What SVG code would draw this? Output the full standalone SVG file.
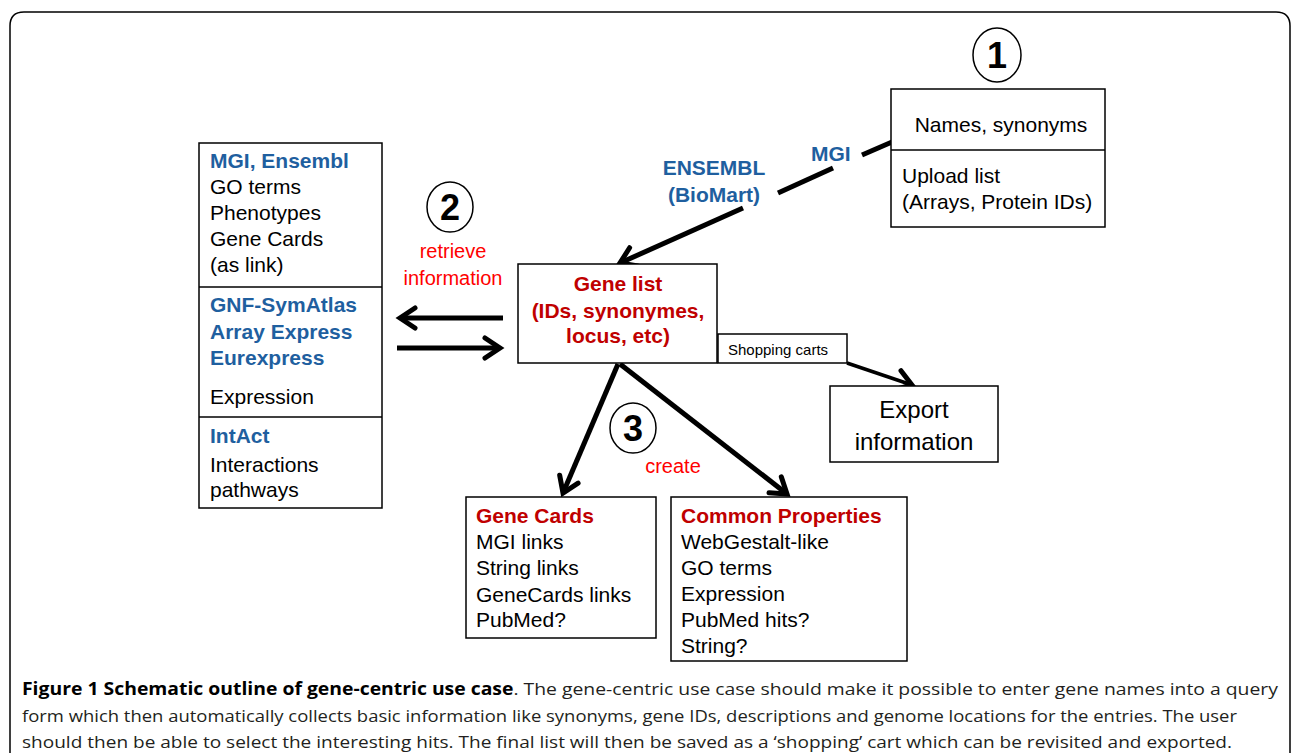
<svg xmlns="http://www.w3.org/2000/svg" width="1292" height="753" viewBox="0 0 1292 753">
<style>
text{font-family:"Liberation Sans",Arial,sans-serif;fill:#000}
.box{fill:#fff;stroke:#000;stroke-width:1.5}
.t{font-size:21px}
.blue{fill:#1f5f9f;font-weight:bold}
.dred{fill:#c00000;font-weight:bold}
.red{fill:#ff0000;font-size:20px}
.num{font-size:36px;font-weight:bold}
.circ{fill:#fff;stroke:#000;stroke-width:1.5}
.cap{font-family:"Open Sans","Liberation Sans",sans-serif;font-size:17px;fill:#231f20}
.conn{stroke:#000;stroke-width:5;fill:none}
</style>
<defs>
<marker id="ah" markerUnits="userSpaceOnUse" markerWidth="40" markerHeight="40" viewBox="-20 -20 40 40" refX="0" refY="0" orient="auto">
<path d="M-15,-10 L0,0 L-15,10" fill="none" stroke="#000" stroke-width="5" stroke-linecap="round"/>
</marker>
</defs>
<rect width="1292" height="753" fill="#fff"/>
<path d="M10,753 V26 Q10,12 24,12 H1276 Q1290,12 1290,26 V753" fill="none" stroke="#000" stroke-width="1.5"/>

<g id="connectors">
<line class="conn" x1="892" y1="142" x2="862" y2="155" stroke-width="6"/>
<line class="conn" x1="833" y1="168" x2="778" y2="193" stroke-width="6"/>
<line class="conn" x1="743" y1="208" x2="620" y2="263" marker-end="url(#ah)"/>
<line class="conn" x1="503" y1="318" x2="400" y2="318" marker-end="url(#ah)"/>
<line class="conn" x1="397" y1="348" x2="500" y2="348" marker-end="url(#ah)"/>
<line class="conn" x1="618" y1="364" x2="563" y2="493" marker-end="url(#ah)"/>
<line class="conn" x1="620" y1="364" x2="787" y2="494" marker-end="url(#ah)"/>
<line stroke="#000" stroke-width="3.5" fill="none" x1="847" y1="363" x2="912" y2="385" marker-end="url(#ah)"/>
</g>

<g id="step1">
<ellipse class="circ" cx="997" cy="55" rx="24" ry="27"/>
<text class="num" x="997" y="68" text-anchor="middle">1</text>
</g>
<g id="input-box">
<rect class="box" x="891" y="89" width="214" height="138"/>
<line x1="891" y1="150" x2="1105" y2="150" stroke="#000" stroke-width="1.5"/>
<text class="t" x="1001" y="132" text-anchor="middle">Names, synonyms</text>
<text class="t" x="902" y="183">Upload list</text>
<text class="t" x="902" y="209">(Arrays, Protein IDs)</text>
</g>
<g id="source-labels">
<text class="t blue" x="811" y="161" font-size="19">MGI</text>
<text class="t blue" x="714" y="175" text-anchor="middle">ENSEMBL</text>
<text class="t blue" x="714" y="202" text-anchor="middle">(BioMart)</text>
</g>

<g id="sources-box">
<rect class="box" x="199" y="143" width="183" height="365"/>
<line x1="199" y1="287" x2="382" y2="287" stroke="#000" stroke-width="1.5"/>
<line x1="199" y1="417" x2="382" y2="417" stroke="#000" stroke-width="1.5"/>
<text class="t blue" x="210" y="168">MGI, Ensembl</text>
<text class="t" x="210" y="194">GO terms</text>
<text class="t" x="210" y="220">Phenotypes</text>
<text class="t" x="210" y="246">Gene Cards</text>
<text class="t" x="210" y="272">(as link)</text>
<text class="t blue" x="210" y="312">GNF-SymAtlas</text>
<text class="t blue" x="210" y="339">Array Express</text>
<text class="t blue" x="210" y="365">Eurexpress</text>
<text class="t" x="210" y="404">Expression</text>
<text class="t blue" x="210" y="443">IntAct</text>
<text class="t" x="210" y="472">Interactions</text>
<text class="t" x="210" y="497">pathways</text>
</g>

<g id="step2">
<ellipse class="circ" cx="450" cy="207" rx="23" ry="25"/>
<text class="num" x="450" y="220" text-anchor="middle">2</text>
<text class="red" x="453" y="258" text-anchor="middle">retrieve</text>
<text class="red" x="453" y="285" text-anchor="middle">information</text>
</g>

<g id="gene-list">
<rect class="box" x="518" y="264" width="199" height="99"/>
<text class="t dred" x="618" y="291" text-anchor="middle" font-size="20">Gene list</text>
<text class="t dred" x="618" y="318" text-anchor="middle" font-size="20">(IDs, synonymes,</text>
<text class="t dred" x="618" y="343" text-anchor="middle" font-size="20">locus, etc)</text>
</g>
<g id="shopping-carts">
<rect class="box" x="718" y="334" width="129" height="29"/>
<text x="728" y="355" font-size="15">Shopping carts</text>
</g>
<g id="export">
<rect class="box" x="830" y="386" width="168" height="76"/>
<text x="914" y="418" font-size="24" text-anchor="middle">Export</text>
<text x="914" y="450" font-size="24" text-anchor="middle">information</text>
</g>

<g id="step3">
<ellipse class="circ" cx="633" cy="428" rx="23" ry="25"/>
<text class="num" x="633" y="441" text-anchor="middle">3</text>
<text class="red" x="673" y="473" text-anchor="middle">create</text>
</g>

<g id="gene-cards">
<rect class="box" x="466" y="497" width="190" height="141"/>
<text class="t dred" x="476" y="523" font-size="20">Gene Cards</text>
<text class="t" x="476" y="549">MGI links</text>
<text class="t" x="476" y="575">String links</text>
<text class="t" x="476" y="602">GeneCards links</text>
<text class="t" x="476" y="627">PubMed?</text>
</g>
<g id="common-properties">
<rect class="box" x="671" y="497" width="236" height="164"/>
<text class="t dred" x="681" y="523" font-size="20">Common Properties</text>
<text class="t" x="681" y="549">WebGestalt-like</text>
<text class="t" x="681" y="575">GO terms</text>
<text class="t" x="681" y="601">Expression</text>
<text class="t" x="681" y="627">PubMed hits?</text>
<text class="t" x="681" y="653">String?</text>
</g>

<g id="caption">
<text class="cap" x="22" y="695" textLength="1256" lengthAdjust="spacingAndGlyphs"><tspan font-weight="bold" fill="#000">Figure 1 Schematic outline of gene-centric use case</tspan>. The gene-centric use case should make it possible to enter gene names into a query</text>
<text class="cap" x="22" y="722" textLength="1215" lengthAdjust="spacingAndGlyphs">form which then automatically collects basic information like synonyms, gene IDs, descriptions and genome locations for the entries. The user</text>
<text class="cap" x="22" y="748" textLength="1210" lengthAdjust="spacingAndGlyphs">should then be able to select the interesting hits. The final list will then be saved as a ‘shopping’ cart which can be revisited and exported.</text>
</g>
</svg>
